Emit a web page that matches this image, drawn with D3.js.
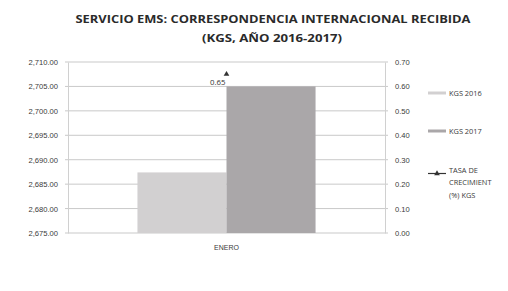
<!DOCTYPE html>
<html lang="es">
<head>
<meta charset="UTF-8">
<title>Servicio EMS</title>
<script src="https://d3js.org/d3.v7.min.js"></script>
<style>
  body { margin: 0; background: #fff; overflow: hidden; }
  svg { font-family: "Open Sans", Arial, sans-serif; }
  .axis text { font-size: 7.6px; fill: #3a3a3a; }
  .legend text { font-size: 7.4px; fill: #3a3a3a; }
  .title { font-size: 10.6px; font-weight: bold; fill: #2a2a2a; }
</style>
</head>
<body>
<div id="chart"></div>
<script>
  // data
  const categories = ["ENERO"];
  const kgs2016 = [2687.4];
  const kgs2017 = [2705];
  const tasa = [0.65];
  const leftTicks = [2675, 2680, 2685, 2690, 2695, 2700, 2705, 2710];
  const rightTicks = [0, 0.1, 0.2, 0.3, 0.4, 0.5, 0.6, 0.7];

  const width = 508, height = 291;
  const plot = { left: 68, right: 385, top: 62, bottom: 233 };

  const svg = d3.select("#chart").append("svg")
    .attr("width", width).attr("height", height);

  svg.append("rect").attr("width", width).attr("height", height).attr("fill", "#fff");

  svg.append("text").attr("class", "title")
    .attr("x", 273).attr("y", 23)
    .attr("text-anchor", "middle")
    .attr("textLength", 395).attr("lengthAdjust", "spacingAndGlyphs")
    .text("SERVICIO EMS: CORRESPONDENCIA INTERNACIONAL RECIBIDA");
  svg.append("text").attr("class", "title")
    .attr("x", 272).attr("y", 42)
    .attr("text-anchor", "middle")
    .attr("textLength", 140).attr("lengthAdjust", "spacingAndGlyphs")
    .text("(KGS, AÑO 2016-2017)");

  const x = d3.scaleBand().domain(categories).range([plot.left, plot.right]).paddingOuter(0.39).paddingInner(0);
  const xs = d3.scaleBand().domain(["2016", "2017"]).range([0, x.bandwidth()]);
  const yL = d3.scaleLinear().domain([2675, 2710]).range([plot.bottom, plot.top]);
  const yR = d3.scaleLinear().domain([0, 0.7]).range([plot.bottom, plot.top]);

  // gridlines
  svg.append("g").selectAll("line").data(leftTicks).join("line")
    .attr("x1", plot.left - 3).attr("x2", plot.right + 3)
    .attr("y1", d => yL(d)).attr("y2", d => yL(d))
    .attr("stroke", "#c9c9c9").attr("stroke-width", 1);

  // bars
  svg.append("g").selectAll("rect").data(categories).join("rect")
    .attr("x", d => x(d) + xs("2016"))
    .attr("y", (d, i) => yL(kgs2016[i]))
    .attr("width", xs.bandwidth())
    .attr("height", (d, i) => yL(2675) - yL(kgs2016[i]))
    .attr("fill", "#d2d0d1");
  svg.append("g").selectAll("rect").data(categories).join("rect")
    .attr("x", d => x(d) + xs("2017"))
    .attr("y", (d, i) => yL(kgs2017[i]))
    .attr("width", xs.bandwidth())
    .attr("height", (d, i) => yL(2675) - yL(kgs2017[i]))
    .attr("fill", "#aaa7a9");

  // axes
  const leftAxis = svg.append("g").attr("class", "axis")
    .attr("transform", `translate(${plot.left},0)`)
    .call(d3.axisLeft(yL).tickValues(leftTicks).tickSize(0).tickPadding(10).tickFormat(d3.format(",.2f")));
  leftAxis.select(".domain").attr("stroke", "#d0d0d0");

  const rightAxis = svg.append("g").attr("class", "axis")
    .attr("transform", `translate(${plot.right},0)`)
    .call(d3.axisRight(yR).tickValues(rightTicks).tickSize(0).tickPadding(10).tickFormat(d3.format(".2f")));
  rightAxis.select(".domain").attr("stroke", "#d0d0d0");

  const bottomAxis = svg.append("g").attr("class", "axis")
    .attr("transform", `translate(0,${plot.bottom})`)
    .call(d3.axisBottom(x).tickSize(0).tickPadding(12));
  bottomAxis.select(".domain").remove();
  bottomAxis.selectAll("text").style("font-size", "7px");

  // growth rate marker + label
  const tri = d3.symbol().type(d3.symbolTriangle).size(14);
  svg.append("g").selectAll("path").data(categories).join("path")
    .attr("d", tri)
    .attr("transform", (d, i) => `translate(${x(d) + x.bandwidth() / 2},${yR(tasa[i])})`)
    .attr("fill", "#333");
  svg.append("g").selectAll("text").data(categories).join("text")
    .attr("x", d => x(d) + x.bandwidth() / 2 - 1)
    .attr("y", (d, i) => yR(tasa[i]) + 11)
    .attr("text-anchor", "end")
    .style("font-size", "7.8px").attr("fill", "#333")
    .text((d, i) => tasa[i].toFixed(2));

  // legend
  const lg = svg.append("g").attr("class", "legend");
  lg.append("line").attr("x1", 428).attr("x2", 446).attr("y1", 93).attr("y2", 93)
    .attr("stroke", "#d2d0d1").attr("stroke-width", 3);
  lg.append("text").attr("x", 449).attr("y", 95.5).text("KGS 2016");
  lg.append("line").attr("x1", 428).attr("x2", 446).attr("y1", 131).attr("y2", 131)
    .attr("stroke", "#aaa7a9").attr("stroke-width", 3);
  lg.append("text").attr("x", 449).attr("y", 133.5).text("KGS 2017");
  lg.append("line").attr("x1", 428).attr("x2", 446).attr("y1", 173.5).attr("y2", 173.5)
    .attr("stroke", "#333").attr("stroke-width", 1.2);
  lg.append("path").attr("d", tri).attr("transform", "translate(437,173.5)").attr("fill", "#333");
  const t = lg.append("text").attr("x", 449).attr("y", 173);
  ["TASA DE", "CRECIMIENT", "(%) KGS"].forEach((s, i) =>
    t.append("tspan").attr("x", 449).attr("dy", i === 0 ? 0 : 12.3).text(s));
</script>
</body>
</html>
